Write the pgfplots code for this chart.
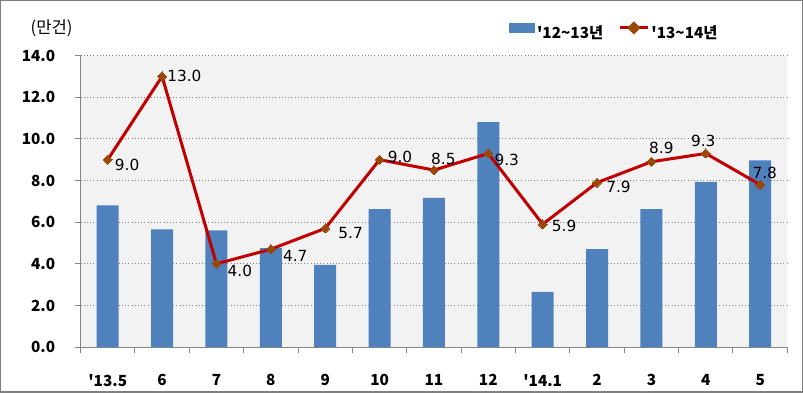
\documentclass[border=0pt]{standalone}
\usepackage{fontspec}
\setmainfont{Noto Sans CJK KR}
\newfontfamily\lblfont{DejaVu Sans}
\usepackage{pgfplots}
\pgfplotsset{compat=1.18}
\usepackage{pgfplotstable}
\definecolor{barblue}{HTML}{4F81BD}
\definecolor{linered}{HTML}{C00000}
\definecolor{markbrown}{HTML}{984807}
\definecolor{bggray}{HTML}{F2F2F2}
\definecolor{axgray}{HTML}{868686}
\definecolor{framegray}{HTML}{7F7F7F}
\pgfplotstableread{
x y
0 6.8
1 5.65
2 5.6
3 4.75
4 3.95
5 6.62
6 7.17
7 10.8
8 2.65
9 4.7
10 6.62
11 7.93
12 8.97
}\bardata
\pgfplotstableread{
x y
0 9.0
1 13.0
2 4.0
3 4.7
4 5.7
5 9.0
6 8.5
7 9.3
8 5.9
9 7.9
10 8.9
11 9.3
12 7.8
}\linedata
\newcommand{\lbl}[5]{\addplot[draw=none, mark=none, forget plot, nodes near coords,
  point meta=explicit symbolic,
  nodes near coords style={anchor=#3, xshift=#4pt, yshift=#5pt, inner sep=0pt,
    font=\lblfont\fontsize{11.5}{13}\selectfont, text=black}]
  coordinates {(#1,#2) [#2]};}
\begin{document}
\begin{tikzpicture}
\begin{axis}[
  scale only axis, width=531pt, height=219pt,
  xmin=-0.5, xmax=12.5, ymin=0, ymax=14,
  axis x line*=bottom, axis y line*=left,
  every outer x axis line/.append style={-},
  every outer y axis line/.append style={-},
  axis line style={draw=axgray, line width=0.75pt, -},
  axis background/.style={fill=bggray},
  xtick={0,...,12},
  xticklabels={\textquotesingle13.5,6,7,8,9,10,11,12,\textquotesingle14.1,2,3,4,5},
  major x tick style={draw=none},
  minor xtick={-0.5,0.5,...,12.5},
  minor tick length=4.5pt,
  ytick={0,2,...,14},
  major tick length=4.5pt,
  tick align=outside,
  tick pos=left,
  tick style={axgray, line width=0.75pt},
  ymajorgrids, grid style={dotted, gray, line width=0.6pt},
  ticklabel style={font=\bfseries\fontsize{11.5}{13}\selectfont, text=black},
  yticklabel style={/pgf/number format/fixed, /pgf/number format/fixed zerofill,
    /pgf/number format/precision=1, /pgf/number format/assume math mode=true, xshift=-11pt},
  xticklabel style={yshift=-12.5pt},
  legend columns=2,
  legend style={at={(0.606,1.08)}, anchor=west, draw=none, fill=none, inner sep=0pt,
    font=\bfseries\fontsize{11.5}{13}\selectfont, nodes={inner sep=1.5pt},
    /tikz/every even column/.append style={column sep=10pt}},
]
\addplot[ybar, bar width=16.5pt, bar shift=0pt, fill=barblue, draw=none,
  legend image code/.code={\fill[barblue] (0pt,0pt) rectangle (19.5pt,7.5pt);}]
  table[x=x,y=y]{\bardata};
\addlegendentry{\textquotesingle12\textasciitilde13년}
\addplot[linered, line width=2.25pt, mark=square*, mark size=2.4pt,
  mark options={fill=markbrown, draw=markbrown, rotate=45, line width=0pt},
  legend image code/.code={\draw[linered, line width=2.25pt] (0pt,4pt) -- (21pt,4pt);
    \fill[markbrown] (10.5pt,4pt) +(-3.4pt,0) -- +(0,3.4pt) -- +(3.4pt,0) -- +(0,-3.4pt) -- cycle;}]
  table[x=x,y=y]{\linedata};
\addlegendentry{\textquotesingle13\textasciitilde14년}
\lbl{0}{9.0}{west}{5.25}{-3.75}
\lbl{1}{13.0}{west}{3.75}{0}
\lbl{2}{4.0}{west}{8.25}{-5.25}
\lbl{3}{4.7}{west}{9}{-5.25}
\lbl{4}{5.7}{west}{9.75}{-3.75}
\lbl{5}{9.0}{west}{6}{2.25}
\lbl{6}{8.5}{south}{7.1}{3.75}
\lbl{7}{9.3}{west}{4.5}{-4.5}
\lbl{8}{5.9}{west}{6.75}{-1.5}
\lbl{9}{7.9}{west}{6.75}{-3}
\lbl{10}{8.9}{south}{7.5}{6}
\lbl{11}{9.3}{south}{-1.9}{4.5}
\lbl{12}{7.8}{south}{3.4}{4.5}
\end{axis}
\node[font=\fontsize{12.5}{14}\selectfont] at ([shift={(-21.75pt,20.25pt)}]current axis.north west) {(만건)};
\draw[framegray, line width=1pt] ([shift={(-60pt,-33.75pt)}]current axis.south west) rectangle ([shift={(11.25pt,41.25pt)}]current axis.north east);
\end{tikzpicture}
\end{document}
